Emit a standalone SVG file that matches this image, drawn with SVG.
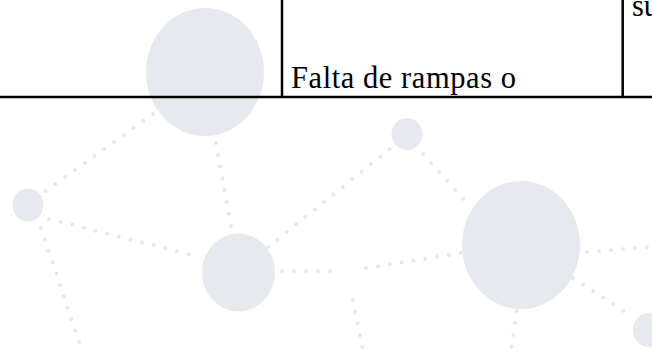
<svg xmlns="http://www.w3.org/2000/svg" width="652" height="351" viewBox="0 0 652 351">
<style>
.n{fill:#E6E9EE}
.d{stroke:#E4E7EC;stroke-width:4;stroke-linecap:round;stroke-dasharray:0 12;fill:none}
.t{stroke:#000;stroke-width:2.5;fill:none}
.tx{font-family:"Liberation Serif",serif;font-size:30.5px;fill:#000}
</style>
<rect width="652" height="351" fill="#fff"/>
<g id="connectors">
<line class="d" x1="153" y1="114" x2="40" y2="195"/>
<line class="d" x1="216" y1="143" x2="232" y2="232"/>
<line class="d" x1="49" y1="219" x2="200" y2="257"/>
<line class="d" x1="41" y1="228" x2="82" y2="351"/>
<line class="d" x1="268" y1="247" x2="395" y2="145"/>
<line class="d" x1="423" y1="154" x2="465" y2="201"/>
<line class="d" x1="282" y1="271" x2="342" y2="271"/>
<line class="d" x1="366" y1="268" x2="461" y2="253"/>
<line class="d" x1="353" y1="300" x2="363" y2="351"/>
<line class="d" x1="587" y1="252" x2="652" y2="247"/>
<line class="d" x1="573" y1="278" x2="627" y2="313"/>
<line class="d" x1="517" y1="311" x2="511" y2="351"/>
</g>
<g id="node1"><ellipse class="n" cx="205" cy="72" rx="59" ry="64"/></g>
<g id="node2"><ellipse class="n" cx="28" cy="205" rx="15.5" ry="16.5"/></g>
<g id="node3"><ellipse class="n" cx="238.5" cy="272.5" rx="36.5" ry="39"/></g>
<g id="node4"><ellipse class="n" cx="407" cy="134" rx="15.5" ry="16"/></g>
<g id="node5"><ellipse class="n" cx="521" cy="245" rx="59" ry="64"/></g>
<g id="node6"><ellipse class="n" cx="649" cy="330" rx="16" ry="17"/></g>
<g id="table">
<line class="t" x1="282" y1="0" x2="282" y2="97"/>
<line class="t" x1="622.7" y1="0" x2="622.7" y2="97"/>
<line class="t" x1="0" y1="97" x2="652" y2="97"/>
<text class="tx" x="291" y="87.5" textLength="225" lengthAdjust="spacing">Falta de rampas o</text>
<text class="tx" x="632" y="15.5">su</text>
</g>
</svg>
